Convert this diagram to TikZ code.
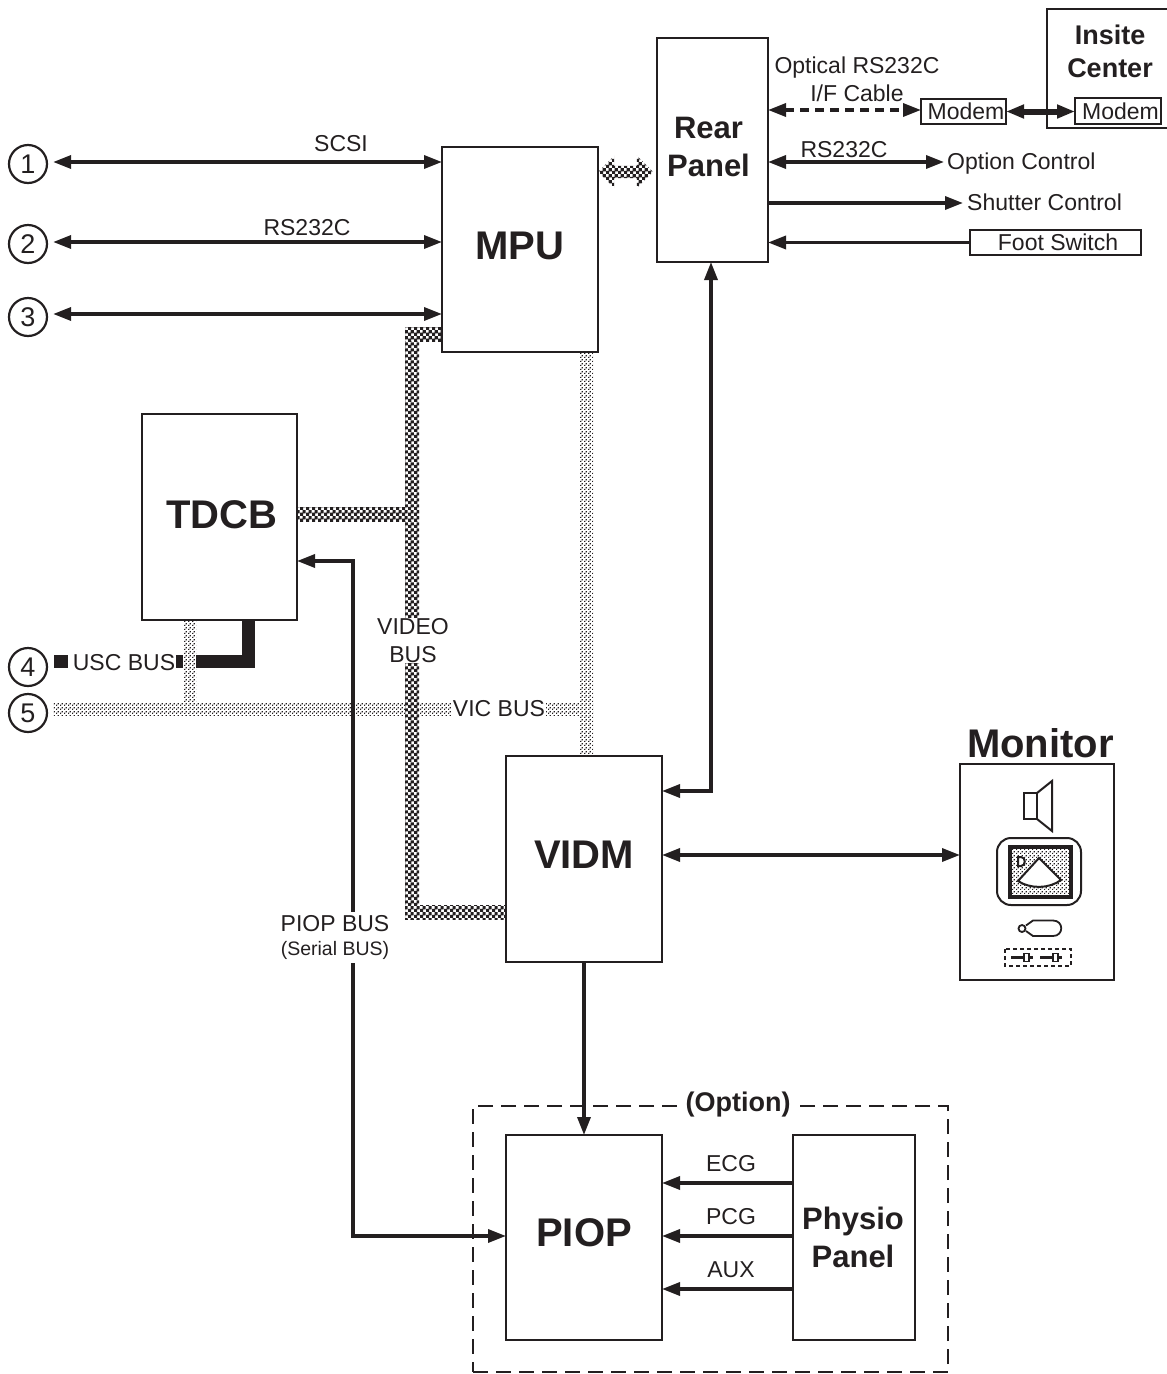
\documentclass[tikz,border=0pt]{standalone}
\usepackage{fontspec}
\setmainfont{Liberation Sans}
\usetikzlibrary{arrows.meta, patterns, calc, backgrounds, shapes.arrows}
\pgfdeclarepatternformonly{bus dark}{\pgfqpoint{0pt}{0pt}}{\pgfqpoint{6pt}{6pt}}{\pgfqpoint{6pt}{6pt}}{
  \pgfpathrectangle{\pgfqpoint{0pt}{0pt}}{\pgfqpoint{3.6pt}{3.6pt}}
  \pgfpathrectangle{\pgfqpoint{3pt}{3pt}}{\pgfqpoint{3.6pt}{3.6pt}}
  \pgfusepath{fill}}
\pgfdeclarepatternformonly{bus light}{\pgfqpoint{0pt}{0pt}}{\pgfqpoint{4pt}{4pt}}{\pgfqpoint{4pt}{4pt}}{
  \pgfpathrectangle{\pgfqpoint{0pt}{0pt}}{\pgfqpoint{1.5pt}{1.5pt}}
  \pgfpathrectangle{\pgfqpoint{2pt}{2pt}}{\pgfqpoint{1.5pt}{1.5pt}}
  \pgfusepath{fill}}
\definecolor{ink}{HTML}{231F20}
\tikzset{
  >={Triangle[length=18,width=13]},
  % Blocchi
  block/.style={draw=ink,line width=2.4,fill=white,inner sep=0,outer sep=0,align=center,font=\fontsize{31}{38}\selectfont\bfseries,text=ink},
  block big/.style={block,font=\fontsize{40}{46}\selectfont\bfseries},
  small box/.style={draw=ink,line width=2.2,fill=white,inner sep=0,outer sep=0,font=\fontsize{23}{27}\selectfont,text=ink},
  port/.style={circle,draw=ink,line width=2.2,minimum size=38,inner sep=0,font=\fontsize{27}{27}\selectfont,text=ink},
  % Testi
  lab/.style={inner sep=1,align=center,font=\fontsize{23}{27.5}\selectfont,text=ink},
  lab cut/.style={lab,fill=white},
  % Connessioni
  connect/.style={line width=3.4,ink},
  connect arrow/.style={connect,->},
  connect both/.style={connect,<->},
  bus video/.style={pattern=bus dark,pattern color=ink,preaction={fill=white}},
  bus vic/.style={pattern=bus light,pattern color=ink,preaction={fill=white}},
  bus usc/.style={line width=13,ink}
}
\newcommand{\busbar}[4]{\fill[#1] ($(#2)+(-#4,-#4)$) rectangle ($(#3)+(#4,#4)$);}
\newcommand{\nudge}[3]{\hspace*{#1}\raisebox{#2}{#3}}
\begin{document}
\begin{tikzpicture}[x=1pt,y=-1pt]
  \useasboundingbox (0,0) rectangle (1167,1374);
  % blocchi
  \node[block big,minimum width=156,minimum height=205] (mpu) at (520,249.5) {\raisebox{8pt}{MPU}};
  \node[block,minimum width=111,minimum height=224] (rear) at (712.5,150) {\nudge{-8pt}{6pt}{Rear}\\\nudge{-8pt}{6pt}{Panel}};
  \node[block big,minimum width=155,minimum height=206] (tdcb) at (219.5,517) {\nudge{5pt}{5pt}{TDCB}};
  \node[block big,minimum width=156,minimum height=206] (vidm) at (584,859) {\raisebox{9pt}{VIDM}};
  \node[block big,minimum width=156,minimum height=205] (piop) at (584,1237.5) {\raisebox{9pt}{PIOP}};
  \node[block,minimum width=122,minimum height=205] (physio) at (854,1237.5) {\nudge{-2pt}{-6pt}{Physio}\\\nudge{-2pt}{-6pt}{Panel}};
  \node[block,minimum width=154,minimum height=216] (monitor) at (1037,872) {};
  \node[block,minimum width=126,minimum height=119,anchor=north west] (insite) at (1047,9) {};
  \node[lab,font=\fontsize{27}{33}\selectfont\bfseries] (insitetxt) at (1110,51) {Insite\\Center};
  \node[small box,minimum width=85,minimum height=25] (modema) at (963.5,111.5) {\nudge{5pt}{-10pt}{Modem}};
  \node[small box,minimum width=86,minimum height=26] (modemb) at (1118,111) {\nudge{5pt}{-10pt}{Modem}};
  \node[small box,minimum width=171,minimum height=25] (foot) at (1055.5,242.5) {\nudge{5pt}{-10pt}{Foot Switch}};
  \foreach \n/\py in {1/164, 2/244, 3/317, 4/667, 5/713}{
    \node[port] (c\n) at (28,\py) {\n};
  }
  \node[draw=ink,line width=2,dash pattern=on 15 off 8,minimum width=475,minimum height=266] (option) at (710.5,1239) {};
  \node[lab cut,font=\fontsize{27}{27}\selectfont\bfseries,inner xsep=5] (optiontxt) at (738,1105) {(Option)};

  % bus
  \coordinate (vtop) at (412,334);
  \coordinate (vbot) at (412,912);
  \coordinate (vmid) at (412,514);
  \coordinate (vic) at (586.5,708.5);
  \coordinate (vicl) at (60,708.5);
  \coordinate (vicb) at (189.5,708.5);
  \coordinate (usc) at (248,661.5);
  \begin{scope}[on background layer]
    \draw[bus usc] ([xshift=6]c4.east |- usc) -- (usc) -- (usc |- tdcb.south);
    \busbar{bus vic}{vicl}{vic}{6.5}
    \busbar{bus vic}{vic |- mpu.south}{vic |- vidm.north}{6.5}
    \busbar{bus vic}{vicb |- tdcb.south}{vicb}{6.5}
    \busbar{bus video}{vtop}{vbot}{7}
    \busbar{bus video}{vtop}{vtop -| mpu.west}{7}
    \busbar{bus video}{vbot}{vbot -| vidm.west}{7}
    \busbar{bus video}{vmid -| tdcb.east}{vmid}{7}
  \end{scope}
  \node[double arrow,pattern=bus dark,pattern color=ink,double arrow head extend=10,inner xsep=0,inner ysep=6,minimum height=55,draw=none] (link) at (625.5,172) {};

  % a sinistra
  \foreach \n/\py in {1/162, 2/242, 3/314}{
    \coordinate (line\n) at (442,\py);
    \draw[connect both,shorten <=5] (c\n.east |- line\n) -- (line\n);
  }
  \node[lab] (scsi) at (341,143.5) {SCSI};
  \node[lab] (rsb) at (307,227.5) {RS232C};
  \node[lab cut] (usctxt) at (122,662.5) {\hspace*{4pt}USC BUS};
  \node[lab cut] (vicbus) at (499,708.5) {VIC BUS};
  \node[lab cut] (videobus) at (413,640.5) {VIDEO\\BUS};

  % pannello posteriore
  \coordinate (dash) at (768,110);
  \coordinate (optc) at (768,162);
  \coordinate (shut) at (768,203);
  \node[lab,anchor=west,inner sep=0] (optctxt) at (947,164) {Option Control};
  \node[lab,anchor=west,inner sep=0] (shuttxt) at (967,202) {Shutter Control};
  \draw[connect,dash pattern=on 9 off 6,<->] (dash) -- (dash -| modema.west);
  \draw[connect both,shorten >=3] (optc) -- (optc -| optctxt.west);
  \draw[connect arrow,shorten >=4] (shut) -- (shut -| shuttxt.west);
  \draw[connect arrow] (foot.west) -- (foot.west -| rear.east);
  \draw[line width=6,ink,<->] (modema.east) -- (modema.east -| modemb.west);
  \node[lab] (optical) at (857,79.5) {Optical RS232C\\I/F Cable};
  \node[lab] (rsa) at (844,149.5) {RS232C};

  % connessioni verticali
  \coordinate (rearup) at (711,791);
  \coordinate (pbus) at (353,561);
  \coordinate (pbot) at (353,1236);
  \coordinate (monin) at (960,855);
  \draw[connect both] (rear.south -| rearup) -- (rearup) -- (rearup -| vidm.east);
  \draw[connect both] (monin -| vidm.east) -- (monin);
  \draw[connect arrow] (vidm.south) -- (piop.north);
  \draw[connect both] (pbus -| tdcb.east) -- (pbus) -- (pbot) -- (pbot -| piop.west);
  \node[lab cut,inner ysep=3] (piopbus) at (335,937.5) {PIOP BUS\\[-3pt]{\fontsize{19.5}{22}\selectfont (Serial BUS)}};
  \foreach \sig/\py/\ty in {ECG/1183/1164, PCG/1236/1217, AUX/1289/1270}{
    \coordinate (sig\sig) at (793,\py);
    \draw[connect arrow] (sig\sig) -- (sig\sig -| piop.east);
    \node[lab] (t\sig) at (731,\ty) {\sig};
  }

  % monitor
  \node[lab,font=\fontsize{40}{46}\selectfont\bfseries] (montxt) at (1040.5,743) {Monitor};
  \begin{scope}[draw=ink,line width=2]
    \draw (1024,793) rectangle (1037,819);
    \draw (1037,793) -- (1052,781) -- (1052,831) -- (1037,819);
    \draw[rounded corners=14] (997,838) rectangle (1081,905);
    \draw[line width=3.5,pattern=bus light,pattern color=ink] (1010,847) rectangle (1071,897);
    \draw[fill=white] (1039,858) -- (1018,881) .. controls (1030,889) and (1049,889) .. (1061,880) -- cycle;
    \draw[fill=white] (1018,857) -- (1021,857) .. controls (1026,857) and (1026,866) .. (1021,866) -- (1018,866) -- cycle;
    \draw[line width=1.8] (1026,925.5) -- (1033,920.5) -- (1053,920.5) .. controls (1064,920.5) and (1064,936) .. (1053,936) -- (1033,936) -- (1026,931);
    \draw[fill=white,line width=1.8] (1022,928.5) circle (3.5);
    \draw[line width=1.5,dash pattern=on 4 off 3] (1005,949) rectangle (1071,966);
    \foreach \sx in {1011,1040}{
      \draw[line width=3] (\sx,957.5) -- ++(22,0);
      \draw[fill=white,line width=1.4] (\sx+13,953.5) rectangle ++(5,8);
    }
  \end{scope}
\end{tikzpicture}
\end{document}
